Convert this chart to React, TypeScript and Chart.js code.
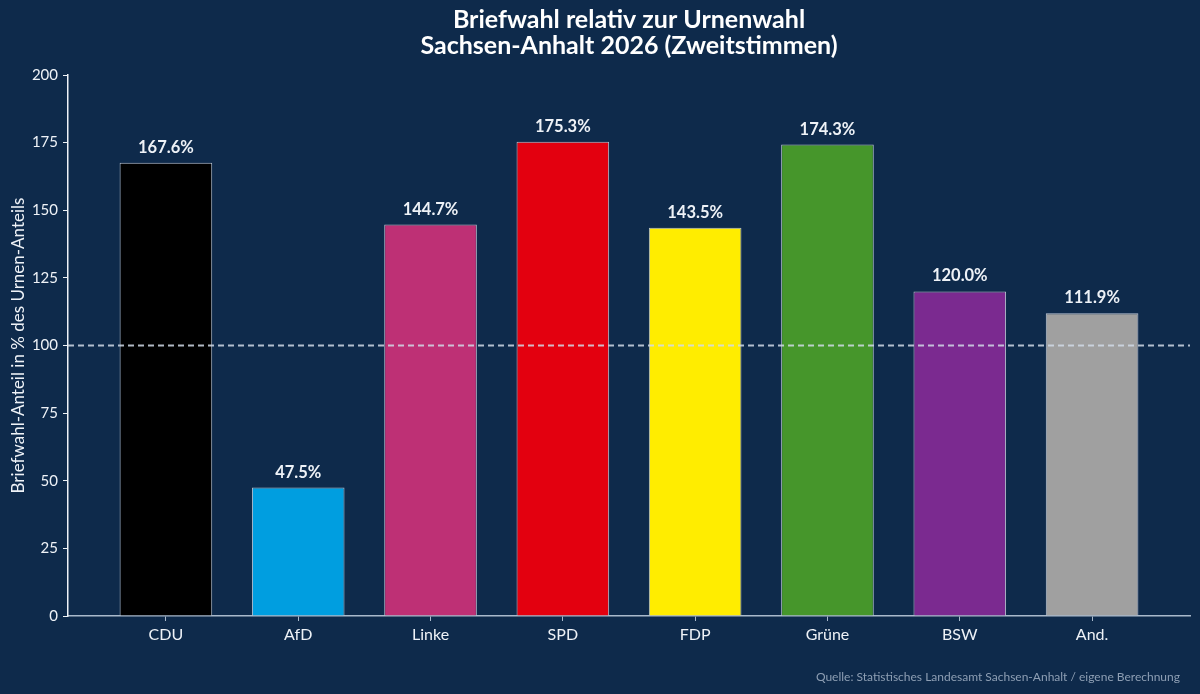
import React, { useEffect, useRef } from "react";
import { Chart, registerables } from "chart.js";

Chart.register(...registerables);

const categories = ["CDU", "AfD", "Linke", "SPD", "FDP", "Grüne", "BSW", "And."];
const values = [167.6, 47.5, 144.7, 175.3, 143.5, 174.3, 120.0, 111.9];
const barColors = ["#000000", "#009ee0", "#be3075", "#e3000f", "#ffed00", "#46962b", "#7b2a90", "#a0a0a0"];
const yTicks = [0, 25, 50, 75, 100, 125, 150, 175, 200];
const referenceLine = 100;
const titleLines = ["Briefwahl relativ zur Urnenwahl", "Sachsen-Anhalt 2026 (Zweitstimmen)"];
const yTitle = "Briefwahl-Anteil in % des Urnen-Anteils";
const sourceText = "Quelle: Statistisches Landesamt Sachsen-Anhalt / eigene Berechnung";

const FONT = "Lato, 'Noto Sans', sans-serif";
const BG = "#0e2a4b";
const TEXT = "#eef2f7";

export default function App() {
  const ref = useRef<HTMLCanvasElement | null>(null);

  useEffect(() => {
    document.body.style.margin = "0";
    document.body.style.background = BG;
    const canvas = ref.current;
    if (!canvas) return;

    const overlay = {
      id: "overlay",
      afterDatasetsDraw(chart: any) {
        const { ctx, chartArea, scales } = chart;
        const y = scales.y.getPixelForValue(referenceLine);
        ctx.save();
        ctx.strokeStyle = "rgba(208,217,230,0.85)";
        ctx.lineWidth = 1.8;
        ctx.setLineDash([6, 4]);
        ctx.beginPath();
        ctx.moveTo(chartArea.left, y);
        ctx.lineTo(chartArea.right, y);
        ctx.stroke();
        ctx.setLineDash([]);
        const meta = chart.getDatasetMeta(0);
        ctx.fillStyle = TEXT;
        ctx.font = `bold 16.5px ${FONT}`;
        ctx.textAlign = "center";
        ctx.textBaseline = "bottom";
        meta.data.forEach((el: any, i: number) => {
          ctx.fillText(values[i].toFixed(1) + "%", el.x, el.y - 7);
        });
        ctx.restore();
      },
      afterDraw(chart: any) {
        const { ctx, chartArea, width, height } = chart;
        const cx = (chartArea.left + chartArea.right) / 2;
        ctx.save();
        ctx.fillStyle = "#ffffff";
        ctx.font = `bold 25px ${FONT}`;
        ctx.textAlign = "center";
        ctx.textBaseline = "middle";
        ctx.fillText(titleLines[0], cx, 20);
        ctx.fillText(titleLines[1], cx, 46);
        ctx.fillStyle = "#8e9fb4";
        ctx.font = `12px ${FONT}`;
        ctx.textAlign = "right";
        ctx.fillText(sourceText, width - 20, height - 17);
        ctx.restore();
      },
    };

    const chart = new Chart(canvas, {
      type: "bar",
      data: {
        datasets: [
          {
            data: values.map((v, i) => ({ x: i, y: v })),
            backgroundColor: barColors,
            borderColor: "rgba(220,225,235,0.85)",
            borderWidth: 1,
            categoryPercentage: 1,
            barPercentage: 0.7,
          },
        ],
      },
      options: {
        responsive: false,
        animation: false,
        layout: { padding: { left: 8, right: 10, top: 75, bottom: 0 } },
        plugins: { legend: { display: false }, tooltip: { enabled: false }, title: { display: false } },
        scales: {
          x: {
            type: "linear",
            offset: false,
            min: -0.74,
            max: 7.74,
            afterBuildTicks: (scale: any) => {
              scale.ticks = categories.map((_, i) => ({ value: i }));
            },
            afterFit: (scale: any) => {
              scale.height = 78;
            },
            ticks: {
              color: TEXT,
              font: { family: FONT, size: 16 },
              padding: 4,
              autoSkip: false,
              maxRotation: 0,
              callback: (v: any) => categories[v] ?? "",
            },
            grid: { display: true, offset: false, drawOnChartArea: false, drawTicks: true, tickLength: 5, color: "#a9b9cb" },
            border: { display: true, color: "#a9b9cb", width: 1.5 },
          },
          y: {
            min: 0,
            max: 200,
            afterBuildTicks: (scale: any) => {
              scale.ticks = yTicks.map((v) => ({ value: v }));
            },
            afterFit: (scale: any) => {
              scale.width = 60;
            },
            ticks: { color: TEXT, font: { family: FONT, size: 15 }, padding: 5 },
            grid: { display: true, drawOnChartArea: false, drawTicks: true, tickLength: 5, color: "#eef2f7" },
            border: { display: true, color: "#eef2f7", width: 1.5 },
            title: { display: true, text: yTitle, color: TEXT, font: { family: FONT, size: 17 }, padding: 0 },
          },
        },
      },
      plugins: [overlay],
    });
    return () => chart.destroy();
  }, []);

  return (
    <div style={{ width: 1200, height: 694, background: BG }}>
      <canvas ref={ref} width={1200} height={694} style={{ display: "block" }} />
    </div>
  );
}
